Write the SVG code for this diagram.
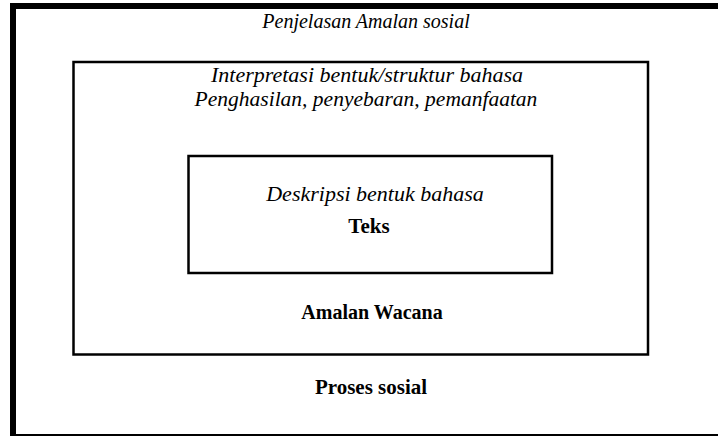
<svg xmlns="http://www.w3.org/2000/svg" width="718" height="436" viewBox="0 0 718 436">
<style>
.box{fill:none;stroke:#000}
text{font-family:"Liberation Serif","Times New Roman",serif;font-size:20px;fill:#000;text-anchor:middle}
.i{font-style:italic;font-size:21px}
.b{font-weight:bold}
</style>
<rect width="718" height="436" fill="#fff"/>
<g id="proses-sosial">
<rect class="box" x="13" y="6" width="720" height="431" stroke-width="6"/>
<text class="i" x="366" y="28" style="font-size:20px">Penjelasan Amalan sosial</text>
<text class="b" x="371" y="394" style="font-size:21px">Proses sosial</text>
</g>
<g id="amalan-wacana">
<rect class="box" x="73.5" y="62" width="574.5" height="292.5" stroke-width="2.5"/>
<text class="i" x="367" y="82" style="font-size:22px">Interpretasi bentuk/struktur bahasa</text>
<text class="i" x="366" y="106" style="font-size:21.5px">Penghasilan, penyebaran, pemanfaatan</text>
<text class="b" x="372" y="319">Amalan Wacana</text>
</g>
<g id="teks">
<rect class="box" x="188.5" y="156" width="363.5" height="117" stroke-width="2.5"/>
<text class="i" x="375" y="201" style="font-size:22px">Deskripsi bentuk bahasa</text>
<text class="b" x="369" y="233" style="font-size:21px">Teks</text>
</g>
<g id="connectors"/>
</svg>
